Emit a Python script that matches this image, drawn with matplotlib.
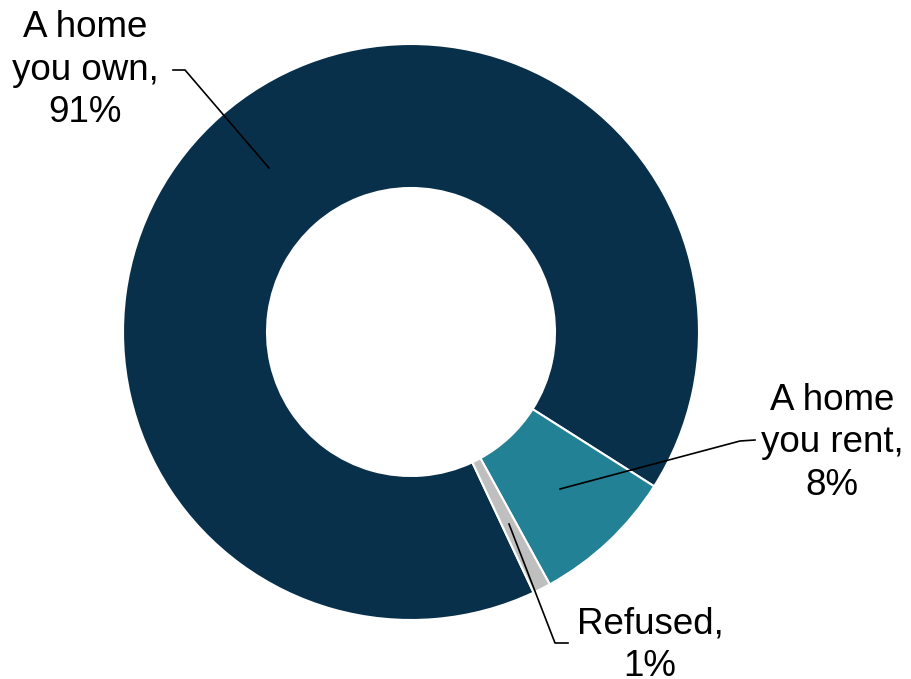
import matplotlib.pyplot as plt

# Dados
labels = ['A home\nyou own,\n91%', 'A home\nyou rent,\n8%', 'Refused,\n1%']
values = [91, 8, 1]
colors = ['#08304A', '#238196', '#BFBFBF']

plt.rcParams['font.family'] = ['Liberation Sans', 'DejaVu Sans']

W, H = 912, 679
cx, cy, R = 411, 332, 288


def px(x, y):
    # pixel -> coordenadas do eixo
    return (x - cx) / R, (cy - y) / R


fig = plt.figure(figsize=(W / 100, H / 100), dpi=100)
ax = fig.add_axes([0, 0, 1, 1])
ax.pie(values, colors=colors, startangle=-64.8, counterclock=False, radius=1,
       wedgeprops=dict(width=0.5, edgecolor='white', linewidth=1.5))
ax.set_xlim(-cx / R, (W - cx) / R)
ax.set_ylim(-(H - cy) / R, cy / R)
ax.set_aspect('equal')
ax.axis('off')

# Rótulos e linhas de chamada
label_pos = [(85, 70), (832, 443), (650, 645)]
leaders = [
    [(173, 70), (185, 70), (269, 168)],
    [(755, 440), (740, 441), (560, 489)],
    [(568, 643), (555, 643), (509, 524)],
]
for lab, (tx, ty), pts in zip(labels, label_pos, leaders):
    x, y = px(tx, ty)
    ax.text(x, y, lab, ha='center', va='center', fontsize=26.5, linespacing=1.27)
    xs, ys = zip(*[px(a, b) for a, b in pts])
    ax.plot(xs, ys, color='black', linewidth=1.2)

fig.savefig('out.png', dpi=100)
